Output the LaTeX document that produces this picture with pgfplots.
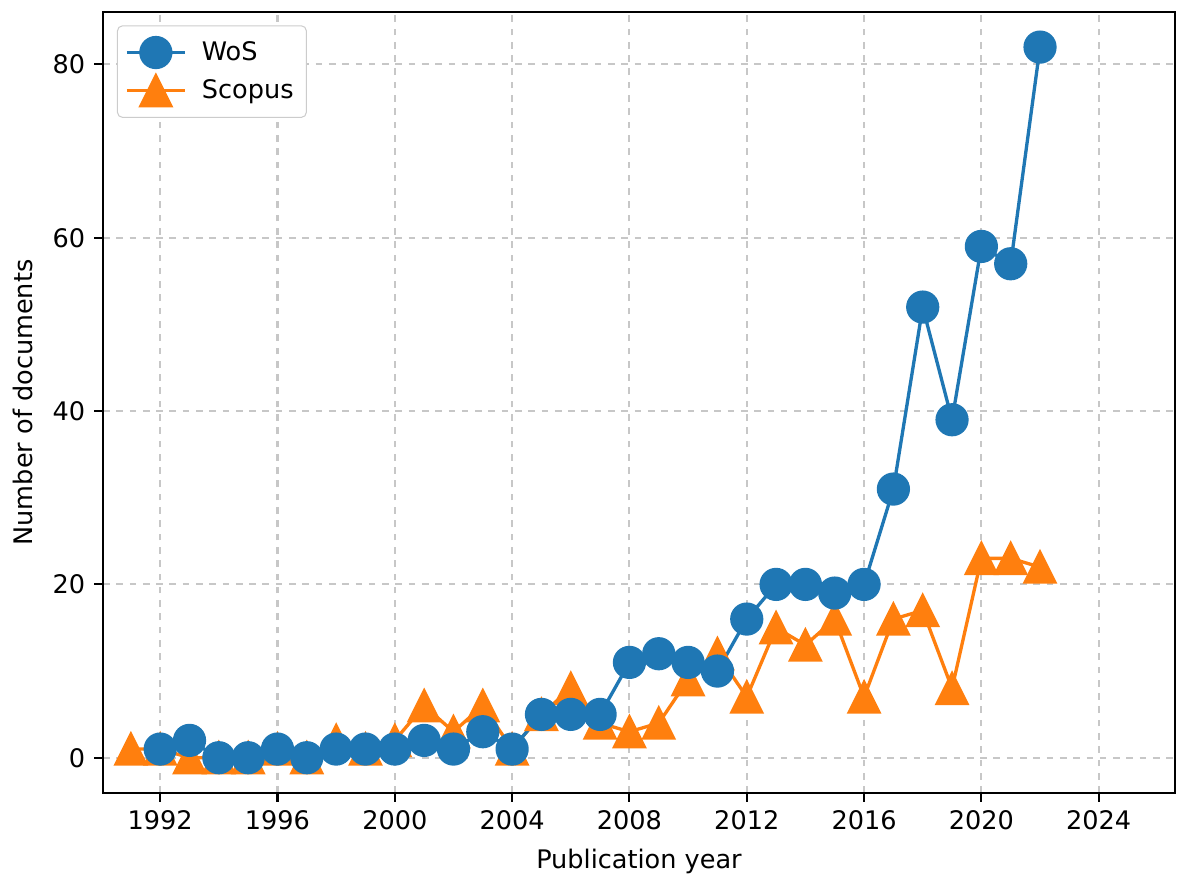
\documentclass[border=0pt]{standalone}
\usepackage{fontspec}
\setmainfont{DejaVu Sans}
\usepackage{pgfplots}
\pgfplotsset{compat=1.18}
\definecolor{cZero}{HTML}{1F77B4}
\definecolor{cOne}{HTML}{FF7F0E}
\pgfdeclareplotmark{mtri}{%
  \pgfpathmoveto{\pgfqpoint{0pt}{\pgfplotmarksize}}%
  \pgfpathlineto{\pgfqpoint{-\pgfplotmarksize}{-\pgfplotmarksize}}%
  \pgfpathlineto{\pgfqpoint{\pgfplotmarksize}{-\pgfplotmarksize}}%
  \pgfpathclose
  \pgfusepathqfillstroke}
\begin{document}
\begin{tikzpicture}
\begin{axis}[
  name=ax,
  scale only axis,
  width=419.4pt, height=305.5pt,
  xmin=1990.05, xmax=2026.6,
  ymin=-4.05, ymax=86.05,
  xtick={1992,1996,...,2024},
  ytick={0,20,40,60,80},
  xticklabel style={/pgf/number format/1000 sep={}},
  /pgf/number format/assume math mode=true,
  tick align=outside,
  major tick length=3.5pt,
  tick style={black, line width=0.8pt},
  axis line style={line width=0.8pt},
  xtick pos=bottom, ytick pos=left,
  grid=major,
  major grid style={dash pattern=on 2.6pt off 2.6pt, line width=0.8pt, color=black!22},
  xlabel={Publication year},
  ylabel={Number of documents},
  label style={font=\fontsize{10}{12}\selectfont},
  tick label style={font=\fontsize{10}{12}\selectfont},
  xlabel style={yshift=-0.7pt},
  ylabel style={yshift=1pt},
  reverse legend,
  legend cell align=left,
  legend style={font=\fontsize{10}{12}\selectfont, draw=black!20, rounded corners=2pt,
    at={(0.013,0.983)}, anchor=north west, inner xsep=3pt, inner ysep=4pt,
    row sep=2pt, /tikz/every odd column/.append style={column sep=4pt}},
  legend image code/.code={\draw[mark repeat=2,mark phase=2] plot coordinates {(0cm,0cm)(0.4cm,0cm)(0.8cm,0cm)};},
]
\addplot[color=cOne, line width=1.3pt, mark=mtri, mark size=6pt, mark options={solid, fill=cOne, line width=1pt}] coordinates {
(1991,1)(1992,1)(1993,0)(1994,0)(1995,0)(1996,1)(1997,0)(1998,2)(1999,1)(2000,2)
(2001,6)(2002,3)(2003,6)(2004,1)(2005,5)(2006,8)(2007,4)(2008,3)(2009,4)(2010,9)
(2011,12)(2012,7)(2013,15)(2014,13)(2015,16)(2016,7)(2017,16)(2018,17)(2019,8)
(2020,23)(2021,23)(2022,22)};
\addlegendentry{Scopus}
\addplot[color=cZero, line width=1.3pt, mark=*, mark size=6pt, mark options={solid, fill=cZero, line width=1pt}] coordinates {
(1992,1)(1993,2)(1994,0)(1995,0)(1996,1)(1997,0)(1998,1)(1999,1)(2000,1)
(2001,2)(2002,1)(2003,3)(2004,1)(2005,5)(2006,5)(2007,5)(2008,11)(2009,12)(2010,11)
(2011,10)(2012,16)(2013,20)(2014,20)(2015,19)(2016,20)(2017,31)(2018,52)(2019,39)
(2020,59)(2021,57)(2022,82)};
\addlegendentry{WoS}
\end{axis}
\pgfresetboundingbox
\path[use as bounding box] ([xshift=-40.3pt,yshift=-32.1pt]ax.south west) rectangle ([xshift=1.2pt,yshift=4.7pt]ax.north east);
\end{tikzpicture}
\end{document}
